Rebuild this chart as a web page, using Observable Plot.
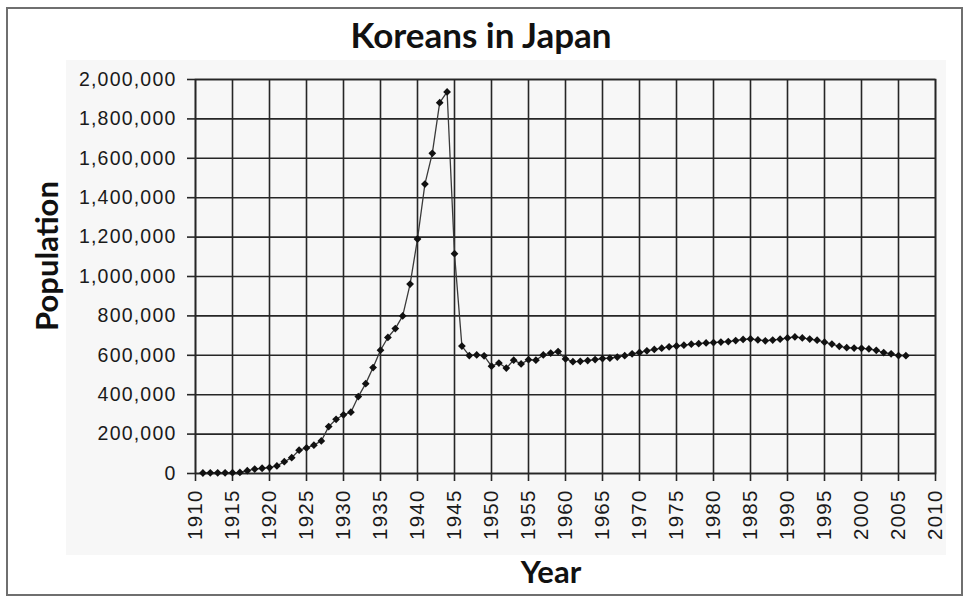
<!DOCTYPE html>
<html>
<head>
<meta charset="utf-8">
<script src="https://cdn.jsdelivr.net/npm/d3@7"></script>
<script src="https://cdn.jsdelivr.net/npm/@observablehq/plot@0.6"></script>
<style>
  html, body { margin: 0; padding: 0; background: #fff; }
  #wrap { position: relative; width: 970px; height: 601px; overflow: hidden; background: #fff; }
  #border { position: absolute; left: 6px; top: 7px; width: 957px; height: 589px; box-sizing: border-box; border: 2px solid #6f6f6f; }
  #panel { position: absolute; left: 66px; top: 60px; width: 880px; height: 495px; background: #f7f7f7; }
  #chart { position: absolute; left: 0; top: 0; }
  #chart svg { background: transparent !important; }
  #labels { position: absolute; left: 0; top: 0; pointer-events: none; }
</style>
</head>
<body>
<div id="wrap">
  <div id="border"></div>
  <div id="panel"></div>
  <div id="chart"></div>
  <svg id="labels" width="970" height="601"></svg>
</div>
<script>
const titleText = "Koreans in Japan";
const xLabel = "Year";
const yLabel = "Population";

const years = [
  1911,1912,1913,1914,1915,1916,1917,1918,1919,1920,
  1921,1922,1923,1924,1925,1926,1927,1928,1929,1930,
  1931,1932,1933,1934,1935,1936,1937,1938,1939,1940,
  1941,1942,1943,1944,1945,1946,1947,1948,1949,1950,
  1951,1952,1953,1954,1955,1956,1957,1958,1959,1960,
  1961,1962,1963,1964,1965,1966,1967,1968,1969,1970,
  1971,1972,1973,1974,1975,1976,1977,1978,1979,1980,
  1981,1982,1983,1984,1985,1986,1987,1988,1989,1990,
  1991,1992,1993,1994,1995,1996,1997,1998,1999,2000,
  2001,2002,2003,2004,2005,2006
];
const population = [
  2500,3200,3600,3500,3900,5600,14500,22400,26600,30200,
  38700,59700,80400,118200,129900,143800,165300,238100,275200,298100,
  311200,390500,456200,537700,625700,690500,735700,799900,961600,1190400,
  1469200,1625100,1882500,1936800,1115600,647000,598500,601800,597600,544900,
  560700,535100,575300,556200,577700,575300,601800,611100,619100,581300,
  567500,569400,573300,578500,583500,585300,591300,598100,607300,614200,
  622700,629800,636300,643100,647200,651300,656200,659000,662600,664500,
  667300,669900,674600,680700,683300,678000,673800,677100,681800,687900,
  693100,688100,682300,676800,666400,657200,645400,638800,636500,635300,
  632400,625400,613800,607400,598700,598200
];
const xTicks = [1910,1915,1920,1925,1930,1935,1940,1945,1950,1955,1960,1965,1970,1975,1980,1985,1990,1995,2000,2005,2010];
const yTicks = [0,200000,400000,600000,800000,1000000,1200000,1400000,1600000,1800000,2000000];

const data = years.map((y, i) => ({year: y, pop: population[i]}));
const gridColor = "#262626";
const tickFont = "Liberation Sans, Arial, sans-serif";

const chart = Plot.plot({
  width: 970,
  height: 601,
  marginLeft: 195,
  marginRight: 35,
  marginTop: 79,
  marginBottom: 128,
  style: { background: "transparent", fontFamily: tickFont, fontSize: "19.5px", color: "#1a1a1a", overflow: "visible" },
  x: { domain: [1910, 2010] },
  y: { domain: [0, 2000000] },
  marks: [
    Plot.gridX(xTicks, { stroke: gridColor, strokeOpacity: 1, strokeWidth: 1.6 }),
    Plot.gridY(yTicks, { stroke: gridColor, strokeOpacity: 1, strokeWidth: 1.6 }),
    Plot.frame({ stroke: gridColor, strokeWidth: 1.6 }),
    Plot.axisX({ ticks: xTicks, tickFormat: d => String(d), tickSize: 8, tickPadding: 8, tickRotate: -90, label: null, stroke: gridColor, strokeWidth: 1.6, fill: "#1a1a1a", fontSize: 20.5 }),
    Plot.axisY({ ticks: yTicks, tickFormat: d3.format(","), tickSize: 8, tickPadding: 11, label: null, stroke: gridColor, strokeWidth: 1.6, fill: "#1a1a1a" }),
    Plot.line(data, { x: "year", y: "pop", stroke: "#3a3a3a", strokeWidth: 1.3 }),
    Plot.dot(data, { x: "year", y: "pop", symbol: "diamond2", r: 3.5, fill: "#111", stroke: "none" })
  ]
});
document.getElementById("chart").appendChild(chart);
d3.select(chart).selectAll("g[aria-label='x-axis tick label'] text, g[aria-label='y-axis tick label'] text").style("letter-spacing", "1.2px");

const lab = d3.select("#labels");
const boldFont = "Lato, 'Open Sans', sans-serif";
lab.append("text").attr("x", 481).attr("y", 48).attr("text-anchor", "middle")
  .attr("font-family", boldFont).attr("font-weight", 700).attr("font-size", 35).attr("fill", "#111").text(titleText);
lab.append("text").attr("x", 551).attr("y", 583).attr("text-anchor", "middle")
  .attr("font-family", boldFont).attr("font-weight", 700).attr("font-size", 31).attr("fill", "#111").text(xLabel);
lab.append("text").attr("transform", "translate(58,256) rotate(-90)").attr("text-anchor", "middle")
  .attr("font-family", boldFont).attr("font-weight", 700).attr("font-size", 31).attr("fill", "#111").text(yLabel);
</script>
</body>
</html>
